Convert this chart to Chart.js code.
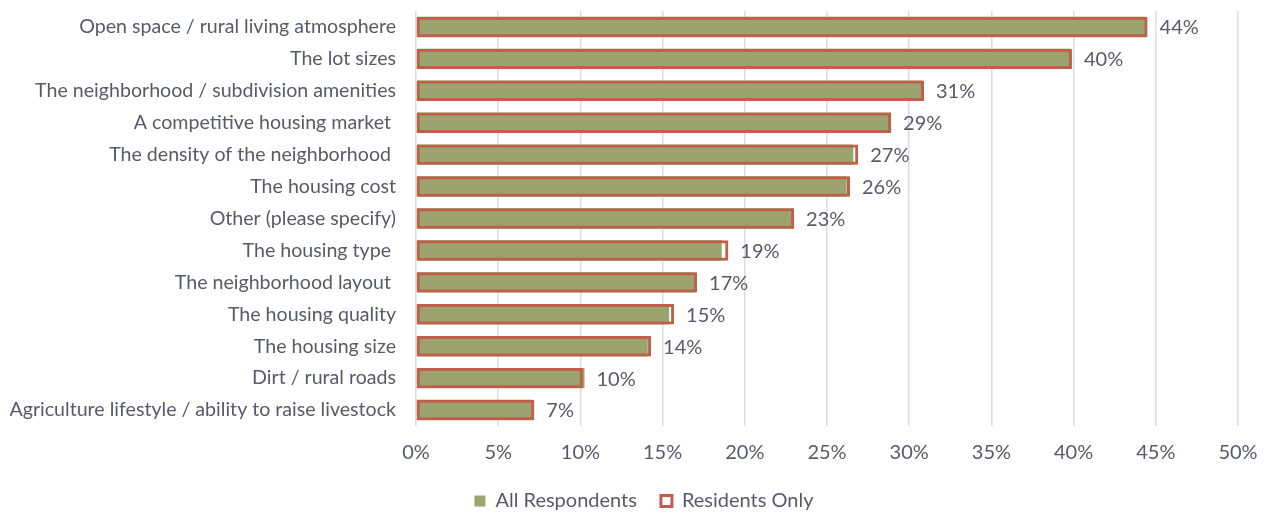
<!DOCTYPE html>
<html>
<head>
<meta charset="utf-8">
<script src="https://cdn.jsdelivr.net/npm/chart.js@4.4.0/dist/chart.umd.min.js"></script>
<style>
  html, body { margin: 0; padding: 0; background: #ffffff; }
</style>
</head>
<body>
<canvas id="chart" width="1268" height="514"></canvas>
<script>
const categories = [
    "Open space / rural living atmosphere",
    "The lot sizes",
    "The neighborhood / subdivision amenities",
    "A competitive housing market ",
    "The density of the neighborhood ",
    "The housing cost",
    "Other (please specify)",
    "The housing type ",
    "The neighborhood layout ",
    "The housing quality",
    "The housing size",
    "Dirt / rural roads",
    "Agriculture lifestyle / ability to raise livestock"
];
const allRespondents = [44.4, 39.8, 30.8, 28.9, 26.6, 26.2, 23.0, 18.6, 17.0, 15.4, 14.1, 10.25, 7.1];
const residentsOnly = [44.5, 39.9, 30.9, 28.9, 26.9, 26.4, 23.0, 19.0, 17.1, 15.7, 14.3, 10.15, 7.2];
const xTicks = [0, 5, 10, 15, 20, 25, 30, 35, 40, 45, 50];

const textColor = '#585a6b';
const fontFamily = 'Lato, "Open Sans", sans-serif';
const fontSize = 19.6;

// value labels at the end of each bar pair
const valueLabels = {
    id: 'valueLabels',
    afterDatasetsDraw(chart) {
        const ctx = chart.ctx;
        const xs = chart.scales.x;
        const ys = chart.scales.y;
        ctx.save();
        ctx.font = '20px ' + fontFamily;
        ctx.fillStyle = textColor;
        ctx.textAlign = 'left';
        ctx.textBaseline = 'middle';
        allRespondents.forEach((v, i) => {
            const end = Math.max(v, residentsOnly[i]);
            const x = xs.getPixelForValue(end) + 12;
            const y = ys.getPixelForValue(i);
            ctx.fillText(Math.round(v) + '%', x, y + 1);
        });
        ctx.restore();
    }
};

// nudge the legend to the right so it sits where the original does
const shiftLegend = {
    id: 'shiftLegend',
    afterLayout(chart) {
        if (chart.legend) {
            chart.legend.left += 20;
            chart.legend.right += 20;
        }
    }
};

new Chart(document.getElementById('chart'), {
    type: 'bar',
    data: {
        labels: categories,
        datasets: [
            {
                label: 'All Respondents',
                data: allRespondents,
                backgroundColor: '#9ba46f',
                borderWidth: 0,
                grouped: false,
                order: 2
            },
            {
                label: 'Residents Only',
                data: residentsOnly,
                backgroundColor: 'rgba(0,0,0,0)',
                borderColor: '#c0604a',
                borderWidth: 3,
                borderSkipped: false,
                grouped: false,
                order: 1
            }
        ]
    },
    options: {
        indexAxis: 'y',
        responsive: false,
        animation: false,
        datasets: {
            bar: { categoryPercentage: 1, barPercentage: 0.64 }
        },
        layout: { padding: { top: 11, left: 10, right: 30, bottom: -7 } },
        scales: {
            x: {
                min: 0,
                max: 50,
                afterBuildTicks: (scale) => { scale.ticks = xTicks.map(v => ({ value: v })); },
                afterFit: (scale) => {
                    scale.height = 41;
                    scale.paddingLeft = 0;
                    scale.paddingRight = 0;
                },
                grid: { color: '#dcdce4', lineWidth: 1.5, drawTicks: false },
                border: { display: false },
                ticks: {
                    color: textColor,
                    padding: 15,
                    font: { family: fontFamily, size: 20 },
                    callback: (v) => v + '%'
                }
            },
            y: {
                grid: { display: false },
                border: { display: false },
                afterFit: (scale) => {
                    scale.width = 406;
                    scale.paddingTop = 0;
                    scale.paddingBottom = 0;
                },
                ticks: {
                    color: textColor,
                    padding: 12,
                    autoSkip: false,
                    font: { family: fontFamily, size: fontSize }
                }
            }
        },
        plugins: {
            tooltip: { enabled: false },
            legend: {
                position: 'bottom',
                labels: {
                    color: textColor,
                    font: { family: fontFamily, size: 20 },
                    boxWidth: 11,
                    boxHeight: 11,
                    padding: 24,
                    sort: (a, b) => a.datasetIndex - b.datasetIndex
                }
            }
        }
    },
    plugins: [valueLabels, shiftLegend]
});
</script>
</body>
</html>
